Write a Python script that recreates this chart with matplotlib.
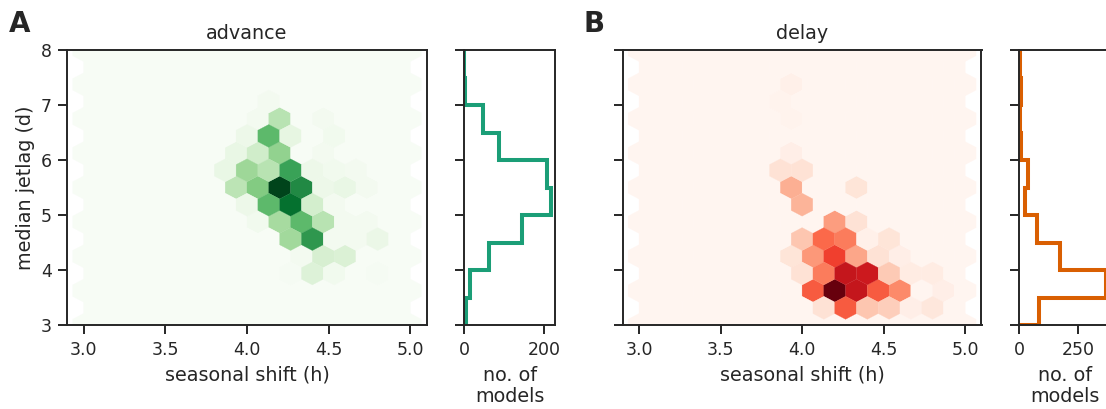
import numpy as np
import matplotlib
matplotlib.use("Agg")
import matplotlib.pyplot as plt
import seaborn as sns

sns.set_theme(style="ticks", context="notebook")
plt.rcParams["font.family"] = ["DejaVu Sans"]
plt.rcParams["axes.linewidth"] = 1.4
for a in ("xtick", "ytick"):
    plt.rcParams[a + ".major.size"] = 6.8
    plt.rcParams[a + ".major.width"] = 1.4
    plt.rcParams[a + ".major.pad"] = 4.5

# hexbin cells: seasonal shift (h), median jetlag (d), number of models
adv_shift = [4.20, 4.33, 4.27, 4.13, 4.27, 4.13, 4.00, 3.87, 4.07, 3.93,
             4.20, 4.07, 3.93, 4.13, 4.27, 4.00, 4.20, 4.07, 4.13, 4.47,
             4.53, 4.47, 4.40, 4.53, 4.67, 4.47, 4.60, 4.73, 4.40, 4.53,
             4.00, 4.20, 4.33, 4.47, 4.07, 4.60, 4.73, 4.40, 4.27, 4.53,
             4.67, 4.80, 4.33, 4.47, 4.60, 4.27, 4.40, 4.53, 4.80]
adv_jet = [5.50, 5.50, 5.19, 5.19, 5.81, 5.81, 5.81, 5.81, 5.50, 5.50,
           6.12, 6.12, 6.12, 6.44, 6.44, 6.44, 6.75, 6.75, 7.06, 6.75,
           6.44, 6.12, 5.81, 5.81, 5.81, 5.50, 5.50, 5.50, 5.19, 5.19,
           5.19, 4.88, 4.88, 4.88, 4.88, 4.88, 4.88, 4.56, 4.56, 4.56,
           4.56, 4.56, 4.25, 4.25, 4.25, 3.94, 3.94, 3.94, 3.94]
adv_n = [70, 53, 60, 39, 46, 21, 27, 7, 32, 20,
         29, 15, 7, 39, 8, 5, 21, 2, 2, 2,
         3, 2, 5, 3, 2, 5, 7, 2, 14, 2,
         5, 25, 39, 21, 3, 2, 2, 49, 26, 2,
         2, 6, 2, 13, 12, 1, 11, 3, 1]

del_shift = [4.20, 4.33, 4.27, 4.40, 4.47, 4.60, 4.07, 4.27, 4.13, 4.40,
             4.53, 4.67, 4.80, 4.13, 4.00, 4.53, 4.67, 4.80, 4.87, 4.07,
             4.20, 4.33, 3.93, 4.47, 4.60, 4.13, 4.27, 4.00, 4.53, 4.40,
             4.20, 4.33, 4.00, 3.93, 4.33, 3.87, 4.00, 3.93, 3.93, 3.87,
             3.93]
del_jet = [3.62, 3.62, 3.94, 3.94, 3.62, 3.62, 3.62, 3.31, 3.31, 3.31,
           3.31, 3.31, 3.31, 3.94, 3.94, 3.94, 3.94, 3.94, 3.62, 4.25,
           4.25, 4.25, 4.25, 4.25, 4.25, 4.56, 4.56, 4.56, 4.56, 4.56,
           4.88, 4.88, 5.19, 5.50, 5.50, 5.81, 5.81, 6.12, 6.75, 7.06,
           7.38]
del_n = [70, 54, 54, 52, 38, 28, 38, 38, 8, 15,
         13, 3, 6, 31, 8, 14, 4, 4, 3, 25,
         43, 22, 7, 8, 3, 35, 31, 15, 7, 2,
         24, 8, 19, 20, 7, 8, 8, 3, 1, 1,
         2]

# marginal histograms of median jetlag
jet_edges = [3.0, 3.5, 4.0, 4.5, 5.0, 5.5, 6.0, 6.5, 7.0, 7.5, 8.0]
adv_hist = [4, 14, 61, 144, 217, 207, 86, 48, 1, 0]
del_hist = [83, 368, 174, 76, 25, 37, 7, 5, 7, 3]

W, H = 1106, 409
fig = plt.figure(figsize=(W / 100, H / 100), dpi=100)


def box(x0, x1, y0=50, y1=325):
    return [x0 / W, 1 - y1 / H, (x1 - x0) / W, (y1 - y0) / H]


panels = [
    dict(main=box(67.3, 426.7), side=box(464.3, 555), letter="A", title="advance",
         shift=adv_shift, jet=adv_jet, n=adv_n, hist=adv_hist, cmap="Greens",
         color="#1b9e77", hticks=[0, 200], lx=9),
    dict(main=box(622.7, 981.5), side=box(1019.3, 1110), letter="B", title="delay",
         shift=del_shift, jet=del_jet, n=del_n, hist=del_hist, cmap="Reds",
         color="#d95f02", hticks=[0, 250], lx=584),
]

tick_fs = 12.5
label_fs = 13.8

for k, p in enumerate(panels):
    ax = fig.add_axes(p["main"])
    ax.hexbin(p["shift"], p["jet"], C=p["n"], reduce_C_function=np.sum,
              gridsize=15, extent=(3, 5, 3, 8), mincnt=0, cmap=p["cmap"],
              vmin=0, vmax=max(p["n"]), linewidths=0.2, edgecolors="face")
    ax.set_xlim(2.9, 5.1)
    ax.set_ylim(3, 8)
    ax.set_xticks([3.0, 3.5, 4.0, 4.5, 5.0])
    ax.set_yticks([3, 4, 5, 6, 7, 8])
    ax.tick_params(labelsize=tick_fs)
    ax.set_xlabel("seasonal shift (h)", fontsize=label_fs, labelpad=5)
    ax.set_title(p["title"], fontsize=label_fs, pad=8)
    if k == 0:
        ax.set_ylabel("median jetlag (d)", fontsize=label_fs)
    else:
        ax.set_yticklabels([])

    hx = fig.add_axes(p["side"])
    hx.stairs(p["hist"], jet_edges, orientation="horizontal", baseline=0,
              color=p["color"], linewidth=2.9)
    hx.set_ylim(3, 8)
    hx.set_xlim(0, max(p["hist"]) * 1.05)
    hx.set_yticks([3, 4, 5, 6, 7, 8])
    hx.set_yticklabels([])
    hx.set_xticks(p["hticks"])
    hx.tick_params(labelsize=tick_fs)
    hx.set_xlabel("no. of\nmodels", fontsize=label_fs, linespacing=1.15,
                  labelpad=5)

    fig.text(p["lx"] / W, 1 - 32 / H, p["letter"], fontsize=20, weight="bold",
             va="baseline", ha="left", color=".15")

fig.savefig("out.png", dpi=100)
